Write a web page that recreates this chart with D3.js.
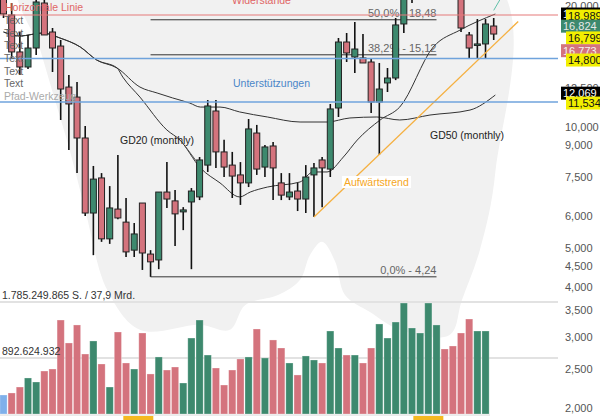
<!DOCTYPE html>
<html><head><meta charset="utf-8">
<script src="https://cdn.jsdelivr.net/npm/d3@7"></script>
<style>body{margin:0;background:#fff}svg{display:block;font-family:"Liberation Sans",Arial,sans-serif}</style>
</head><body>
<svg id="c" width="600" height="420"></svg>
<script>
// ---- data (monthly candles, index 1..61) ----
const opens  = [21.30,18.99,15.37,14.10,15.72,20.34,17.23,15.90,12.57,11.87,9.39,6.11,7.47,5.27,6.25,5.80,4.94,6.47,4.83,4.67,6.89,6.55,6.15,6.51,6.70,8.04,10.96,8.67,8.04,7.60,7.26,9.66,7.95,8.97,7.26,6.70,6.93,6.62,7.60,8.28,7.86,11.15,16.27,14.93,14.85,14.51,11.54,12.87,13.24,18.04,22.0,25.5,28.0,30.5,31.0,27.5,24.0,16.94,16.05,16.09,17.83];
const highs  = [21.92,20.34,17.23,16.94,21.30,21.00,17.63,16.46,13.47,12.94,10.06,8.00,7.68,7.13,8.52,6.66,5.77,6.47,4.94,6.89,8.18,6.97,6.32,7.05,8.42,11.67,11.67,9.29,8.67,8.18,10.47,10.12,9.02,9.18,7.68,7.68,7.26,8.04,8.14,8.42,11.41,16.65,17.13,18.25,17.03,14.85,14.43,14.02,18.67,22.50,26.5,29.0,31.5,32.72,32.0,28.5,25.0,17.23,18.56,18.56,18.67];
const lows   = [18.67,14.85,13.47,13.94,15.10,16.94,13.70,10.41,8.77,7.68,6.01,4.80,5.18,5.12,5.90,4.75,4.75,4.41,4.24,4.43,6.29,5.06,5.54,4.43,6.58,7.73,7.91,7.51,6.66,6.40,7.09,7.60,7.51,6.58,6.58,6.58,6.18,6.11,5.97,6.32,7.51,10.59,14.51,13.62,14.43,10.83,8.52,12.22,13.08,17.13,20.34,24.0,26.5,29.0,27.0,23.5,17.23,14.76,14.76,14.76,16.46];
const closes = [19.10,15.37,14.10,15.72,20.46,16.94,15.72,12.43,11.41,9.39,6.11,7.42,5.27,6.29,5.94,4.89,5.42,4.86,4.62,6.89,6.62,6.08,6.22,6.93,8.28,11.28,8.67,7.95,7.55,7.26,9.89,7.86,8.92,7.91,6.77,6.89,6.62,7.51,7.91,7.91,11.09,16.27,15.28,15.63,14.43,11.54,12.43,13.24,17.94,21.92,25.5,28.0,30.5,31.0,27.5,24.0,17.63,15.72,16.09,18.04,17.03];
// volume in millions of shares, index 1..60
const volumes = [303,335,430,574,510,685,717,1498,1132,1419,956,1164,797,430,1307,813,717,1291,638,909,701,749,494,1211,1498,940,733,462,701,877,909,1355,893,1180,1052,813,622,925,861,813,1323,1052,940,940,813,1052,1435,1211,1466,1769,1371,1291,1769,1419,1036,1084,1291,1514,1323,1323];
const volumeMax = 1785.249865;
const highlightedVolume = 1;
// moving averages [index, price]
const gd20 = [[1,17.23],[3,16.84],[5.8,17.13],[7.9,16.65],[10.4,15.81],[12.4,14.68],[14.9,14.02],[15.6,13.31],[17.7,11.87],[21.0,9.83],[22.6,9.28],[25.1,7.91],[27.5,7.26],[29.9,6.70],[31.2,6.89],[33.3,7.09],[37.3,7.30],[38.9,7.73],[40.6,7.73],[42.6,8.42],[44.3,9.28],[47.1,10.41],[49.5,11.21],[53.6,15.81],[56.9,17.43],[61.2,19.10]];
const gd50 = [[1,17.23],[3,16.84],[5.8,17.13],[7.9,16.65],[10.4,15.81],[12.4,14.68],[14.9,14.02],[17.7,12.57],[19.8,12.15],[21.7,11.81],[23.8,11.47],[25.1,11.21],[27.5,11.21],[29.9,10.90],[33.3,10.59],[37.3,10.29],[40.6,10.29],[43.4,10.53],[46.7,10.59],[49.5,10.41],[53.2,10.71],[58.1,11.02],[61.2,12.01]];
// background silhouette outline [index, price]
const shade = [[3.0,23],[61.2,23],[61.2,7.73],[59.3,4.94],[57.1,3.71],[55.6,3.04],[49.5,3.13],[45.9,3.46],[42.8,3.82],[41.6,4.62],[40.0,5.18],[38.5,4.80],[37.3,4.17],[34.6,3.82],[30.6,3.61],[28.7,3.13],[25.1,3.22],[17.7,3.13],[13.7,3.93],[11.0,6.22],[9.1,8.77],[7.3,11.67],[5.5,15.54]];
// horizontal levels
const resistance = [18.989];
const supports = [14.800, 11.534];
const fibLevels = [["50,0%",18.48],["38,2%",15.12],["0,0%",4.24]];
const fibStart = 19, fibEnd = 54;
const trend = [[39,5.97],[64.0,18.3]];
const teal = [[61.0,19.5],[61.8,20.8]];
const tickValues = [20,17.5,15,12.5,10,9,7.5,6,5,4.5,4,3.5,3,2.5,2];
const markers = [
  {v:18.989, t:"18,989", kind:"black", nudge:-1},
  {v:18.989, t:"18,989", kind:"yellow", nudge:1},
  {v:16.824, t:"16,824", kind:"green", nudge:-10},
  {v:16.799, t:"16,799", kind:"yellow", nudge:1.5},
  {v:16.773, t:"16,773", kind:"pink", nudge:14},
  {v:14.800, t:"14,800", kind:"yellow", nudge:1.5},
  {v:12.069, t:"12,069", kind:"black", nudge:-1},
  {v:11.534, t:"11,534", kind:"yellow", nudge:1}
];
const bottomTags = [17.5, 53.0];

// ---- scales ----
const svg = d3.select("#c");
const X = d3.scaleLinear().domain([1,61]).range([3.5,493.7]);
const Y = d3.scaleLog().domain([10,4]).range([127,287]);
const V = d3.scaleLinear().domain([0,volumeMax]).range([414,302]);
const plotRight = 558;
const GREEN="#3d896e", RED="#d4737d";

// background silhouette
svg.append("path").datum(shade)
  .attr("d", d3.line().x(d=>X(d[0])).y(d=>Y(d[1])).curve(d3.curveCatmullRomClosed.alpha(0.5)))
  .attr("fill","#f1f1f1");

// volume grid
svg.selectAll(".vg").data([volumeMax, volumeMax/2]).join("line")
  .attr("x1",0).attr("x2",plotRight).attr("y1",d=>V(d)).attr("y2",d=>V(d))
  .attr("stroke","#e2e2e2").attr("stroke-width",2);
svg.append("line").attr("x1",0).attr("x2",490).attr("y1",V(0)+1).attr("y2",V(0)+1).attr("stroke","#d8d8d8");

// volume bars
svg.selectAll(".vb").data(volumes).join("rect")
  .attr("x",(d,i)=>X(i+1)-3.6).attr("width",7.2)
  .attr("y",d=>V(d)).attr("height",d=>V(0)-V(d))
  .attr("fill",(d,i)=> i+1===highlightedVolume ? "#7fb0ea" : (closes[i]>=opens[i]?GREEN:RED))
  .attr("stroke","#ffffff").attr("stroke-opacity",0.35).attr("stroke-width",0.8);

svg.append("text").attr("x",2).attr("y",299).attr("font-size",10.5).attr("fill","#333").text("1.785.249.865 S. / 37,9 Mrd.");
svg.append("text").attr("x",2).attr("y",355).attr("font-size",10.5).attr("fill","#333").text("892.624.932");

// bottom tags
svg.selectAll(".bt").data(bottomTags).join("rect")
  .attr("x",d=>X(d)-15).attr("width",30).attr("y",416).attr("height",4).attr("fill","#f5b921");

// fib lines
svg.selectAll(".fl").data(fibLevels).join("line")
  .attr("x1",X(fibStart)).attr("x2",X(fibEnd)).attr("y1",d=>Y(d[1])).attr("y2",d=>Y(d[1]))
  .attr("stroke","#333").attr("stroke-width",1);
svg.selectAll(".ft").data(fibLevels).join("text")
  .attr("x",X(fibEnd)).attr("y",d=>Y(d[1])-3).attr("text-anchor","end")
  .attr("font-size",11).attr("fill","#666").text(d=>d[0]+" - "+d[1].toFixed(2).replace(".",","));

// moving averages
const ml = d3.line().x(d=>X(d[0])).y(d=>Y(d[1])).curve(d3.curveMonotoneX);
svg.append("path").datum(gd50).attr("d",ml).attr("fill","none").attr("stroke","#333").attr("stroke-width",1);
svg.append("path").datum(gd20).attr("d",ml).attr("fill","none").attr("stroke","#333").attr("stroke-width",1);
svg.append("path").datum(teal).attr("d",ml).attr("fill","none").attr("stroke","#5fc0a8").attr("stroke-width",1);

// candles
const cg = svg.append("g");
const idx = d3.range(opens.length);
cg.selectAll(".w").data(idx).join("line")
  .attr("x1",i=>X(i+1)).attr("x2",i=>X(i+1)).attr("y1",i=>Y(highs[i])).attr("y2",i=>Y(lows[i]))
  .attr("stroke","#111").attr("stroke-width",1.6);
cg.selectAll(".b").data(idx).join("rect")
  .attr("x",i=>X(i+1)-3).attr("width",6)
  .attr("y",i=>Y(Math.max(opens[i],closes[i])))
  .attr("height",i=>Math.max(1.5,Math.abs(Y(opens[i])-Y(closes[i]))))
  .attr("fill",i=>closes[i]>=opens[i]?GREEN:RED).attr("stroke","#222").attr("stroke-width",1);

// trend line
svg.append("path").datum(trend).attr("d",d3.line().x(d=>X(d[0])).y(d=>Y(d[1])))
  .attr("stroke","#f5b041").attr("stroke-width",1.3).attr("fill","none");

// horizontal levels
svg.selectAll(".rl").data(resistance).join("line")
  .attr("x1",0).attr("x2",plotRight).attr("y1",d=>Y(d)).attr("y2",d=>Y(d))
  .attr("stroke","#e57b7b").attr("stroke-width",1.2);
svg.selectAll(".sl").data(supports).join("line")
  .attr("x1",0).attr("x2",plotRight).attr("y1",d=>Y(d)).attr("y2",d=>Y(d))
  .attr("stroke","#6fa3dc").attr("stroke-width",1.5);

// annotations
const ann = svg.append("g").attr("font-size",10.5);
ann.append("text").attr("x",5).attr("y",11).attr("fill","#e06666").text("Horizontale Linie");
[20,33,45,58,71,83].forEach(y=>ann.append("text").attr("x",4).attr("y",y+4).attr("fill","#666").text("Text"));
ann.append("text").attr("x",4).attr("y",100).attr("fill","#aaa").text("Pfad-Werkzeug");
ann.append("text").attr("x",232).attr("y",4).attr("fill","#e06666").text("Widerstände");
ann.append("text").attr("x",233).attr("y",87).attr("fill","#4a86c8").text("Unterstützungen");
ann.append("text").attr("x",120).attr("y",144).attr("fill","#222").text("GD20 (monthly)");
ann.append("line").attr("x1",185).attr("y1",146).attr("x2",197).attr("y2",162).attr("stroke","#555");
ann.append("text").attr("x",430).attr("y",139).attr("fill","#222").text("GD50 (monthly)");
const at = ann.append("text").attr("x",344).attr("y",186).attr("fill","#f5a623").text("Aufwärtstrend");
const bb = at.node().getBBox();
ann.insert("rect","text:last-child").attr("x",bb.x-2).attr("y",bb.y).attr("width",bb.width+4).attr("height",bb.height).attr("fill","#fff");

// right axis
const ax = svg.append("g").attr("transform","translate(565,0)")
  .call(d3.axisRight(Y).tickValues(tickValues).tickSize(0).tickPadding(0)
  .tickFormat(d=>d3.format(".3f")(d).replace(".",",")));
ax.select(".domain").remove();
ax.selectAll("text").attr("font-size",11).attr("fill","#555").attr("font-family","Liberation Sans, Arial, sans-serif");

// value markers
const mcol = {black:["#000","#fff"], yellow:["#f2ef00","#111"], green:[GREEN,"#e8e8e8"], pink:[RED,"#f4f4f4"]};
const mg = svg.append("g");
markers.forEach(m=>{
  const y = Y(m.v)+m.nudge;
  const x0 = m.kind==="yellow"?566:561;
  mg.append("rect").attr("x",x0).attr("y",y-6.5).attr("width",600-x0).attr("height",13).attr("fill",mcol[m.kind][0]);
  mg.append("text").attr("x",x0+2).attr("y",y+4).attr("font-size",11).attr("fill",mcol[m.kind][1]).text(m.t);
});
</script>
</body></html>
